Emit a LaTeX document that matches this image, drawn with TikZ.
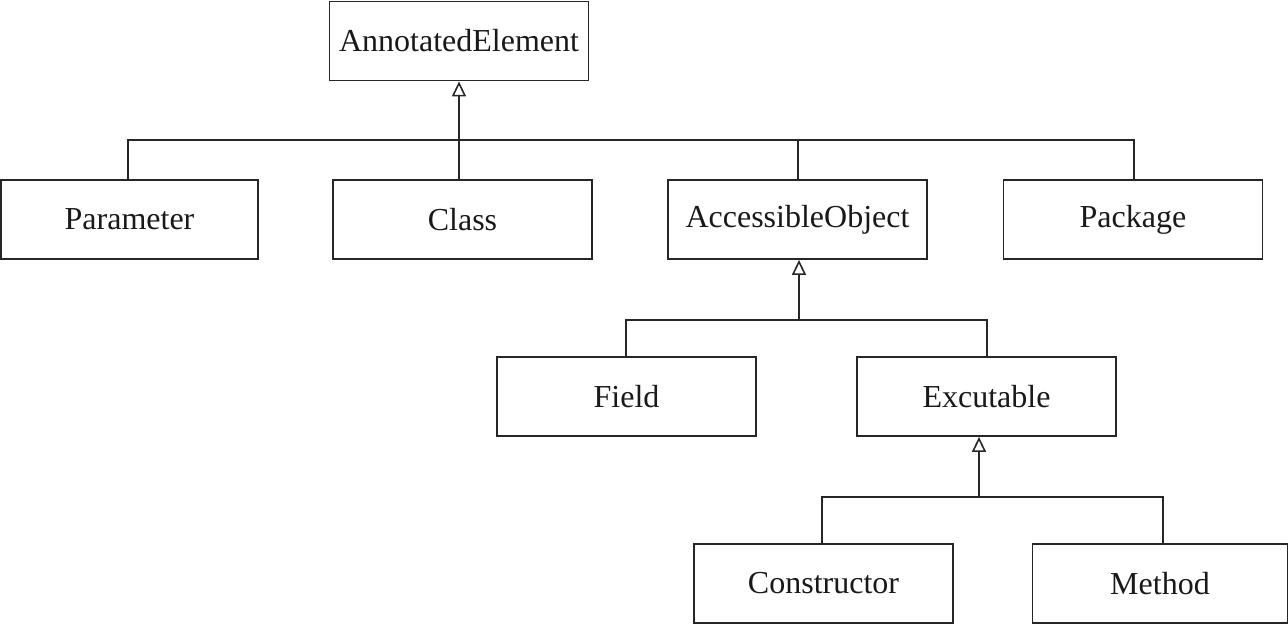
\documentclass[tikz,border=0pt]{standalone}
\usepackage{fontspec}
\setmainfont{Liberation Serif}
\usetikzlibrary{arrows.meta}
\begin{document}
\begin{tikzpicture}[x=1pt,y=-1pt,
  cls/.style={draw=black!85, line width=1.8pt, fill=white, minimum width=259pt, minimum height=79pt, inner sep=0pt, font=\fontsize{32}{38}\selectfont, text=black!90},
  conn/.style={draw=black!85, line width=1.8pt},
  inherit/.style={conn, -{Triangle[open, length=15pt, width=14pt, line width=1.6pt]}}]
\useasboundingbox (0,0) rectangle (1288,624);
% nodes
\node[cls] (ae) at (459,41) {AnnotatedElement};
\node[cls, minimum width=257pt] (param) at (129.5,219.5) {Parameter};
\node[cls] (class) at (462.5,219.5) {Class};
\node[cls] (ao) at (797.5,219.5) {AccessibleObject};
\node[cls] (pkg) at (1133,219.5) {Package};
\node[cls] (field) at (626.5,396.5) {Field};
\node[cls] (exe) at (986.5,396.5) {Excutable};
\node[cls] (ctor) at (823.5,583.5) {Constructor};
\node[cls, minimum width=255pt] (meth) at (1160,583.5) {Method};
% bus coordinates
\coordinate (b1) at (459,140);
\coordinate (b1l) at (128,140);
\coordinate (b1r) at (1134,140);
\coordinate (b1ao) at (798,140);
\coordinate (b2) at (799,320);
\coordinate (b2l) at (626,320);
\coordinate (b2r) at (987,320);
\coordinate (b3) at (979,497);
\coordinate (b3l) at (822,497);
\coordinate (b3r) at (1163,497);
% level 1
\draw[conn] (b1l |- param.north) -- (b1l) -- (b1r) -- (b1r |- pkg.north);
\draw[conn] (b1 |- class.north) -- (b1);
\draw[conn] (b1ao) -- (b1ao |- ao.north);
\draw[inherit] (b1) -- (b1 |- ae.south);
% level 2
\draw[conn] (b2l |- field.north) -- (b2l) -- (b2r) -- (b2r |- exe.north);
\draw[inherit] (b2) -- (b2 |- ao.south);
% level 3
\draw[conn] (b3l |- ctor.north) -- (b3l) -- (b3r) -- (b3r |- meth.north);
\draw[inherit] (b3) -- (b3 |- exe.south);
\end{tikzpicture}
\end{document}
